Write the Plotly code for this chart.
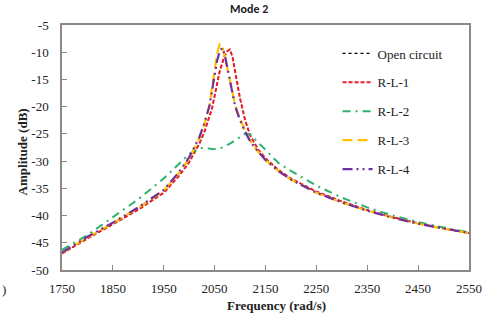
import plotly.graph_objects as go

# Frequency grid (rad/s)
freq = [1750, 1800, 1850, 1900, 1950, 1980, 2000, 2020, 2030, 2040, 2045, 2050,
        2055, 2060, 2065, 2070, 2075, 2080, 2085, 2090, 2095, 2100, 2110, 2120,
        2135, 2150, 2175, 2200, 2250, 2300, 2350, 2400, 2450, 2500, 2550]

# Amplitude (dB) of each configuration
rl1 = [-47.0, -44.2, -41.6, -38.9, -35.8, -32.7, -30.2, -26.8, -24.6, -22.0, -20.3, -18.0,
       -15.6, -13.5, -12.0, -10.6, -9.8, -9.5, -10.8, -13.3, -16.0, -18.5, -22.5, -25.3,
       -27.8, -29.5, -31.6, -33.2, -35.6, -37.4, -39.0, -40.3, -41.4, -42.4, -43.2]
open_circuit = list(rl1)
rl2 = [-46.3, -43.6, -40.3, -37.0, -33.2, -30.4, -28.7, -27.6, -27.6, -27.7, -27.8, -27.8,
       -27.8, -27.7, -27.5, -27.3, -27.0, -26.8, -26.5, -26.2, -25.8, -25.5, -25.0, -25.1,
       -26.5, -28.0, -30.3, -31.8, -34.5, -36.7, -38.5, -40.0, -41.2, -42.2, -43.1]
rl3 = [-46.9, -44.0, -41.4, -38.6, -35.4, -32.2, -29.5, -25.8, -23.2, -19.8, -16.5, -13.0,
       -10.2, -8.5, -8.8, -10.8, -13.0, -15.5, -17.5, -19.5, -21.0, -22.2, -24.5, -26.3,
       -28.2, -29.8, -31.8, -33.4, -35.8, -37.6, -39.1, -40.4, -41.5, -42.4, -43.2]
rl4 = [-46.8, -43.9, -41.3, -38.5, -35.3, -32.0, -29.3, -25.6, -23.0, -19.8, -17.0, -14.0,
       -11.5, -9.8, -9.2, -10.5, -12.8, -15.5, -17.8, -19.8, -21.2, -22.5, -24.6, -26.4,
       -28.2, -29.8, -31.8, -33.4, -35.8, -37.6, -39.1, -40.4, -41.5, -42.4, -43.2]

x_ticks = [1750, 1850, 1950, 2050, 2150, 2250, 2350, 2450, 2550]
y_ticks = [-50, -45, -40, -35, -30, -25, -20, -15, -10, -5]

series = [
    ("Open circuit", open_circuit, "#000000", "dot", 1.2),
    ("R-L-1", rl1, "#ee1c25", "4px,2px", 2.0),
    ("R-L-2", rl2, "#2bb36b", "8px,5px,2px,5px", 2.0),
    ("R-L-3", rl3, "#ffc000", "10px,5px", 2.2),
    ("R-L-4", rl4, "#7030a0", "10px,4px,2px,4px,2px,4px", 2.2),
]

fig = go.Figure()
for i, (name, vals, color, dash, width) in enumerate(series):
    fig.add_trace(go.Scatter(
        x=freq, y=vals, mode="lines", name=name,
        legendgroup=f"g{i}",
        line=dict(color=color, dash=dash, width=width),
    ))

serif = "Liberation Serif"
text_color = "#222222"
axis_common = dict(
    showline=True, linecolor="#8a8a8a", linewidth=1.5, mirror=True,
    ticks="inside", ticklen=5, tickcolor="#8a8a8a", tickwidth=1,
    showgrid=False, zeroline=False,
    tickfont=dict(family=serif, size=13, color=text_color),
)

fig.update_xaxes(range=[1750, 2550], tickvals=x_ticks,
                 ticktext=[str(v) for v in x_ticks], ticklabelstandoff=6,
                 **axis_common)
# plain hyphen for negative labels
fig.update_yaxes(range=[-50, -5], tickvals=y_ticks,
                 ticktext=[str(v) for v in y_ticks], ticklabelstandoff=9,
                 **axis_common)

fig.update_layout(
    width=494, height=324,
    margin=dict(l=62, r=17, t=25, b=54),
    paper_bgcolor="white", plot_bgcolor="white",
    font=dict(family=serif, color=text_color),
    showlegend=True,
    legend=dict(
        x=0.677, y=0.945, xanchor="left", yanchor="top",
        bgcolor="rgba(0,0,0,0)", borderwidth=0,
        font=dict(family=serif, size=13, color=text_color),
        tracegroupgap=9,
    ),
    annotations=[
        dict(text="<b>Mode 2</b>", xref="paper", yref="paper",
             x=0.459, xanchor="center", y=1.0, yanchor="middle", yshift=16,
             showarrow=False,
             font=dict(family="Carlito, Open Sans, sans-serif", size=12, color=text_color)),
        dict(text="<b>Frequency (rad/s)</b>", xref="paper", yref="paper",
             x=0.528, xanchor="center", y=0, yanchor="middle", yshift=-35,
             showarrow=False,
             font=dict(family=serif, size=13, color=text_color)),
        dict(text="<b>Amplitude (dB)</b>", xref="paper", yref="paper",
             x=0, xanchor="center", xshift=-40, y=0.48, yanchor="middle",
             textangle=-90, showarrow=False,
             font=dict(family=serif, size=13, color=text_color)),
        dict(text=")", xref="paper", yref="paper",
             x=0, xshift=-62, xanchor="left", y=0, yanchor="middle", yshift=-19,
             showarrow=False,
             font=dict(family=serif, size=13, color=text_color)),
    ],
)

fig.write_html("out.html")
